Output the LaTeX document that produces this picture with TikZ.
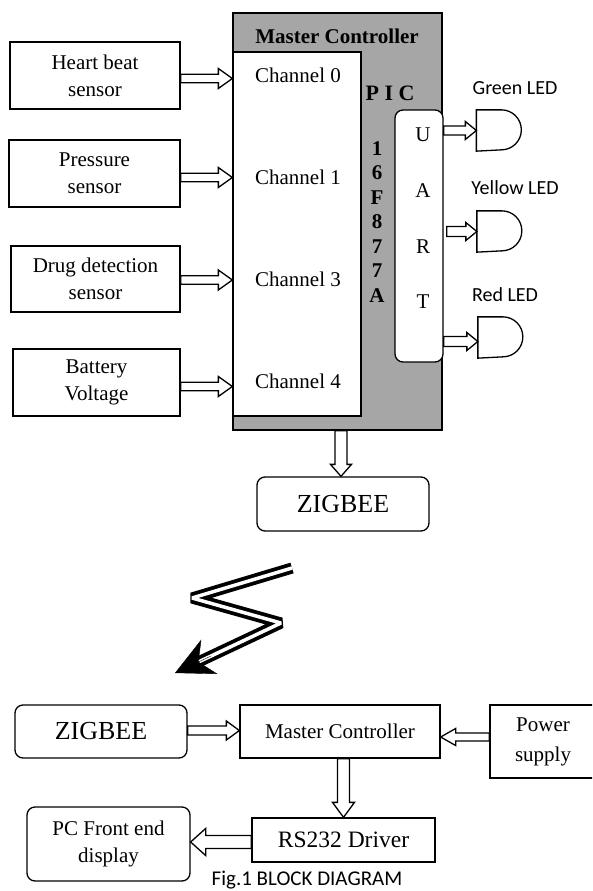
\documentclass[tikz,border=0pt]{standalone}
\usepackage{fontspec}
\setmainfont{Liberation Serif}
\newfontfamily\calib{Carlito}
\usetikzlibrary{calc,arrows.meta}
\definecolor{mcgray}{RGB}{166,166,166}
\newcommand\bodyfont{\fontsize{21}{27}\selectfont}

\tikzset{
  blockbox/.style={draw, line width=1.3pt, align=center, font=\bodyfont},
  roundbox/.style={blockbox, rounded corners=8pt},
  ledgate/.style={minimum width=45pt, minimum height=40pt, inner sep=0pt},
  ledlabel/.style={font=\calib\fontsize{20}{24}\selectfont},
  wireless/.style={double, double distance=3.5pt, line width=3.8pt, line join=bevel},
  hollow/.style n args={3}{to path={
    let \p1=(\tikztostart), \p2=(\tikztotarget),
        \n1={atan2((\y2)-(\y1),(\x2)-(\x1))} in
    ($(\p1)+(\n1+90:#1)$)
    -- ($(\p2)+(\n1+180:#3)+(\n1+90:#1)$)
    -- ($(\p2)+(\n1+180:#3)+(\n1+90:#2)$)
    -- (\p2)
    -- ($(\p2)+(\n1+180:#3)+(\n1-90:#2)$)
    -- ($(\p2)+(\n1+180:#3)+(\n1-90:#1)$)
    -- ($(\p1)+(\n1-90:#1)$) -- cycle}}
}

\begin{document}
\begin{tikzpicture}[x=1pt,y=1pt,line width=1.3pt]

\useasboundingbox (0,0) rectangle (592,-891);
\clip (0,0) rectangle (592,-891);

% Master controller block
\node[draw, fill=mcgray, minimum width=209pt, minimum height=417pt] (mc) at (337.5,-221.5) {};
\node[draw, fill=white, minimum width=128pt, minimum height=364pt] (chbox) at (297,-234) {};
\node[font=\bfseries\fontsize{21}{25}\selectfont] (mchead) at (337,-36) {Master Controller};

% Channels
\node[font=\bodyfont] (ch0) at (298,-75) {Channel 0};
\node[font=\bodyfont] (ch1) at (298,-177) {Channel 1};
\node[font=\bodyfont] (ch3) at (298,-279) {Channel 3};
\node[font=\bodyfont] (ch4) at (298,-381) {Channel 4};

% PIC 16F877A
\node[font=\bfseries\fontsize{22}{26}\selectfont] (pic) at (390,-93) {P I C};
\node[font=\bfseries\fontsize{21}{24.5}\selectfont, align=center] (picno) at (377,-222) {1\\6\\F\\8\\7\\7\\A};

% UART
\node[draw, fill=white, rounded corners=8pt, minimum width=48pt, minimum height=252pt] (ua) at (419,-236) {};
\node[font=\fontsize{21}{55.7}\selectfont, align=center] (uart) at (423,-218.5) {U\\A\\R\\T};

% Sensors
\node[blockbox, minimum width=170pt, minimum height=67pt] (hb) at (95,-75.5) {Heart beat\\sensor};
\node[blockbox, minimum width=171pt, minimum height=67pt] (pr) at (94.5,-173.5) {Pressure\\sensor};
\node[blockbox, minimum width=169pt, minimum height=66pt] (dd) at (95.5,-279) {Drug detection\\sensor};
\node[blockbox, minimum width=167pt, minimum height=67pt] (bv) at (96.5,-382.5) {Battery\\Voltage};

\draw ($(hb.east)+(0,-3)$) to[hollow={4.3}{10}{14}] ($(hb.east -| mc.west)+(0,-3)$);
\draw ($(pr.east)+(0,-4)$) to[hollow={4.3}{10}{14}] ($(pr.east -| mc.west)+(0,-4)$);
\draw ($(dd.east)+(0,-1)$) to[hollow={4.3}{10}{14}] ($(dd.east -| mc.west)+(0,-1)$);
\draw ($(bv.east)+(0,-4)$) to[hollow={4.3}{10}{14}] ($(bv.east -| mc.west)+(0,-4)$);

% LEDs
\node[ledlabel] (lG) at (515,-88) {Green LED};
\node[ledlabel] (lY) at (515,-188) {Yellow LED};
\node[ledlabel] (lR) at (505,-295) {Red LED};

\node[ledgate] (gG) at (499.5,-130.5) {};
\node[ledgate] (gY) at (500,-231.5) {};
\node[ledgate] (gR) at (501,-337.5) {};

\draw (gG.north west) -- ++(25,0) arc[start angle=90, end angle=-90, radius=20pt] -- (gG.south west) -- cycle;
\draw (gY.north west) -- ++(25,0) arc[start angle=90, end angle=-90, radius=20pt] -- (gY.south west) -- cycle;
\draw (gR.north west) -- ++(25,0) arc[start angle=90, end angle=-90, radius=20pt] -- (gR.south west) -- cycle;

\draw (ua.east |- gG.west) to[hollow={4.5}{9}{11}] (gG.west);
\draw ($(ua.east |- gY.west)+(3,0)$) to[hollow={5}{9}{11}] (gY.west);
\draw ($(ua.east |- gR.west)+(0,-4)$) to[hollow={5}{9}{11}] ($(gR.west)+(0,-4)$);

% Transmitter ZIGBEE
\node[roundbox, font=\fontsize{26}{30}\selectfont, minimum width=172pt, minimum height=54pt] (zb1) at (343,-504) {ZIGBEE};
\draw ($(zb1.north |- mc.south)+(-2,0)$) to[hollow={6}{10.5}{12}] ($(zb1.north)+(-2,0)$);

% Wireless link
\coordinate (w1) at (292,-568);
\coordinate (w2) at (192,-598);
\coordinate (w3) at (281,-623);
\coordinate (w4) at (175,-673);
\draw[wireless] (w1) -- (w2) -- (w3) -- ($(w4)!24pt!(w3)$);
\draw[-{Stealth[length=38pt,width=38pt,inset=12pt]}, line width=.4pt] ($(w4)!40pt!(w3)$) -- (w4);

% Receiver side
\node[roundbox, font=\fontsize{26}{30}\selectfont, minimum width=172pt, minimum height=53pt] (zb2) at (101,-731.5) {ZIGBEE};
\node[blockbox, minimum width=200pt, minimum height=53pt] (m2) at (340,-731.5) {Master Controller};
\node[blockbox, font=\fontsize{21}{30}\selectfont, minimum width=106pt, minimum height=73pt] (pw) at (543,-741.5) {Power\\supply};
\node[blockbox, font=\fontsize{23.5}{28}\selectfont, minimum width=183pt, minimum height=44pt] (rs) at (343.5,-840) {RS232 Driver};
\node[roundbox, minimum width=163pt, minimum height=74pt] (pc) at (108.5,-844) {PC Front end\\display};

\draw ($(zb2.east)+(0,1)$) to[hollow={4.5}{9.5}{13}] ($(zb2.east -| m2.west)+(0,1)$);
\draw ($(pw.west)+(0,4.5)$) to[hollow={4}{8.5}{15}] ($(pw.west -| m2.east)+(0,4.5)$);
\draw (rs.north |- m2.south) to[hollow={6}{11}{15}] (rs.north);
\draw ($(rs.west)+(0,-2)$) to[hollow={6.5}{13.5}{15}] ($(rs.west -| pc.east)+(0,-2)$);

% Caption
\node[font=\calib\fontsize{21}{25}\selectfont] (cap) at (307,-880) {Fig.1 BLOCK DIAGRAM};

\end{tikzpicture}
\end{document}
